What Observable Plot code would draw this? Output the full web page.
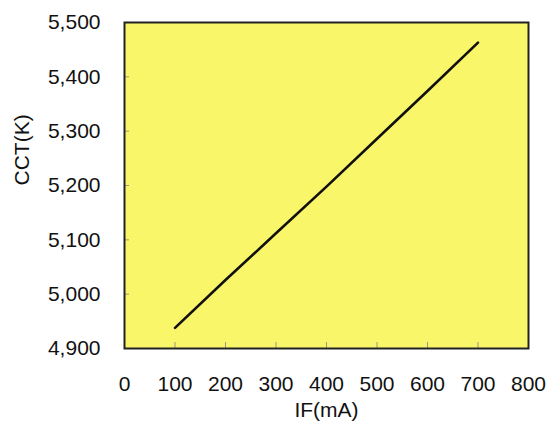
<!DOCTYPE html>
<html>
<head>
<meta charset="utf-8">
<script src="https://cdn.jsdelivr.net/npm/d3@7"></script>
<script src="https://cdn.jsdelivr.net/npm/@observablehq/plot@0.6"></script>
<style>
  html, body { margin: 0; padding: 0; background: #fff; }
</style>
</head>
<body>
<div id="chart"></div>
<script>
const ifCurrent = [100, 200, 300, 400, 500, 600, 700];
const cct = [4938, 5026, 5112, 5198, 5286, 5374, 5463];
const xTicks = [0, 100, 200, 300, 400, 500, 600, 700, 800];
const yTicks = [4900, 5000, 5100, 5200, 5300, 5400, 5500];
const xLabel = "IF(mA)";
const yLabel = "CCT(K)";

const data = ifCurrent.map((x, i) => ({x, y: cct[i]}));

const chart = Plot.plot({
  width: 548,
  height: 425,
  marginLeft: 124,
  marginRight: 20,
  marginTop: 22,
  marginBottom: 77,
  style: {fontFamily: "'Liberation Sans', Arial, sans-serif", fontSize: "21px", background: "#fff", color: "#111"},
  x: {domain: [0, 800]},
  y: {domain: [4900, 5500]},
  marks: [
    Plot.frame({fill: "#faf66a", stroke: "none"}),
    Plot.axisX({ticks: xTicks, tickSize: -6, tickPadding: 34, stroke: "#9a9a80", fill: "#111", label: null, tickFormat: d3.format("d")}),
    Plot.axisY({ticks: yTicks, tickSize: -5, tickPadding: 29, stroke: "#9a9a80", fill: "#111", label: null, tickFormat: d3.format(",")}),
    Plot.line(data, {x: "x", y: "y", stroke: "#111", strokeWidth: 2.6}),
    Plot.frame({stroke: "#222", strokeWidth: 2}),
    Plot.text([xLabel], {frameAnchor: "bottom", dy: 62, lineAnchor: "middle", fill: "#111", fontSize: 21}),
    Plot.text([yLabel], {frameAnchor: "left", dx: -102, rotate: -90, lineAnchor: "middle", fill: "#111", fontSize: 21})
  ]
});
document.getElementById("chart").appendChild(chart);
</script>
</body>
</html>
